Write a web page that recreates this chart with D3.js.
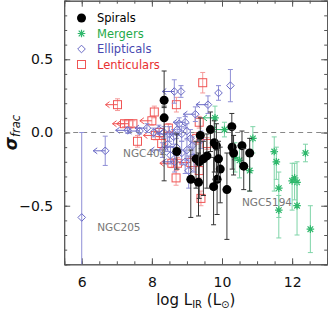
<!DOCTYPE html>
<html><head><meta charset="utf-8">
<script src="https://cdn.jsdelivr.net/npm/d3@7"></script>
<style>body{margin:0;background:#fff}svg{display:block}</style>
</head><body><svg id="c" width="328" height="311"></svg>
<script>
const xDomain = [5.5, 13];
const yDomain = [-0.9, 0.9];
const xTickLabels = [6, 8, 10, 12];
const yTickLabels = [-0.5, 0, 0.5];
// rows: [log L_IR, sigma_frac, errLow, errHigh, upperLimit (1 = left arrow)]
const spirals = [
  [8.35,0.22,0.05,0.20,0],[8.35,0.10,0.43,0.08,0],[10.28,0.04,0.12,0.09,0],[9.67,0.02,0.15,0.12,0],
  [9.78,-0.07,0.2,0.15,0],[9.84,-0.09,0.22,0.15,0],[9.38,-0.02,0.2,0.12,0],[9.57,-0.16,0.22,0.15,0],
  [9.47,-0.18,0.25,0.12,0],[9.26,-0.18,0.2,0.12,0],[9.35,-0.20,0.25,0.15,0],[8.71,-0.13,0.12,0.12,0],
  [9.95,-0.25,0.23,0.15,0],[9.86,-0.32,0.24,0.2,0],[9.76,-0.37,0.26,0.2,0],[10.14,-0.39,0.34,0.25,0],
  [10.29,-0.10,0.15,0.12,0],[10.33,-0.14,0.15,0.12,0],[10.57,-0.09,0.12,0.1,0],[10.62,-0.23,0.16,0.12,0],
  [10.79,-0.14,0.26,0.1,0],[9.11,-0.32,0.26,0.2,0],[9.33,-0.34,0.23,0.2,0],[9.9,-0.18,0.15,0.12,0]
];
const mergers = [
  [9.8,0.10,0.08,0.08,1],[10.07,0.02,0.05,0.05,1],[10.88,-0.04,0.1,0.08,0],[10.79,-0.26,0.14,0.12,0],
  [10.50,-0.19,0.12,0.1,0],[10.37,-0.17,0.1,0.1,0],[11.49,-0.13,0.27,0.1,0],[11.55,-0.20,0.12,0.1,0],
  [11.62,-0.38,0.2,0.11,0],[11.62,-0.53,0.19,0.1,0],[12.0,-0.33,0.2,0.12,0],[12.07,-0.31,0.15,0.1,0],
  [12.14,-0.34,0.16,0.14,0],[12.14,-0.50,0.2,0.15,0],[12.38,-0.14,0.06,0.06,0],[12.52,-0.66,0.16,0.16,0]
];
const ellipticals = [
  [6.0,-0.58,0.6,0.58,0],[6.67,-0.125,0.1,0.1,1],[7.31,0.015,0.02,0.02,1],[7.65,0.01,0.02,0.02,1],
  [7.86,0.03,0.03,0.03,1],[8.05,0.0,0.03,0.03,0],[8.2,0.02,0.03,0.03,0],[8.64,0.28,0.08,0.08,1],
  [8.83,0.28,0.04,0.04,0],[10.24,0.32,0.11,0.11,0],[9.9,0.27,0.05,0.05,0],[9.6,0.19,0.06,0.06,1],
  [9.24,0.125,0.05,0.05,1],[8.95,0.07,0.04,0.04,1],[8.78,0.06,0.04,0.04,0],[8.35,0.0,0.04,0.04,0],
  [8.5,-0.01,0.05,0.05,1],[8.62,-0.03,0.05,0.05,0],[8.72,0.02,0.04,0.04,0],[8.85,-0.01,0.05,0.05,1],
  [9.0,0.01,0.05,0.05,0],[9.1,-0.04,0.06,0.06,0],[8.45,-0.08,0.05,0.05,0],[8.53,-0.155,0.06,0.06,0],
  [8.7,-0.1,0.06,0.06,1],[8.85,-0.14,0.08,0.08,0],[9.0,-0.12,0.07,0.07,0],[9.15,-0.09,0.06,0.06,0],
  [8.95,-0.2,0.08,0.08,0],[9.2,-0.17,0.1,0.1,0],[8.65,-0.2,0.07,0.07,1],[9.05,-0.26,0.12,0.1,0],
  [8.3,-0.12,0.05,0.05,1],[9.4,-0.05,0.06,0.06,0]
];
const lenticulars = [
  [7.02,0.19,0.04,0.04,1],[8.07,0.14,0.04,0.04,0],[8.0,0.08,0.03,0.03,1],[7.22,0.06,0.02,0.02,1],
  [7.34,0.06,0.02,0.02,1],[7.46,0.06,0.02,0.02,0],[7.59,-0.06,0.04,0.04,0],[9.45,0.34,0.07,0.07,0],
  [8.70,0.19,0.05,0.05,0],[9.35,0.07,0.04,0.04,0],[8.47,0.03,0.03,0.03,0],[9.57,-0.075,0.04,0.04,0],
  [8.73,-0.21,0.04,0.04,0],[8.69,-0.31,0.05,0.05,0],[9.11,-0.205,0.04,0.04,1],[9.35,-0.26,0.05,0.05,0],
  [9.40,-0.45,0.05,0.05,0],[8.28,-0.075,0.04,0.04,0],[8.57,-0.21,0.03,0.03,1],[8.22,0.0,0.03,0.03,0],
  [9.28,-0.04,0.04,0.04,0],[8.1,-0.02,0.03,0.03,1]
];
const legendLabels = ["Spirals","Mergers","Ellipticals","Lenticulars"];
const annotations = [["NGC404",7.18,-0.17],["NGC205",6.44,-0.67],["NGC5194",10.57,-0.505]];

const svg = d3.select("#c");
const L = 64.2, R = 327.2, T = 0.7, B = 264.3;
const x = d3.scaleLinear().domain(xDomain).range([L, R]);
const y = d3.scaleLinear().domain(yDomain).range([B, T]);
const font = "DejaVu Sans, sans-serif";

svg.append("defs").append("clipPath").attr("id","clip")
  .append("rect").attr("x",L).attr("y",T).attr("width",R-L).attr("height",B-T);

const axCol = "#555";
function styleAxis(g){ g.select(".domain").attr("stroke",axCol); g.selectAll("line").attr("stroke",axCol); }
const xMinor = d3.range(5.5, 13.01, 0.5);
const yMinor = d3.range(-0.9, 0.901, 0.1).map(v=>+v.toFixed(2));
svg.append("g").attr("transform",`translate(0,${B})`).call(d3.axisBottom(x).tickValues(xMinor).tickSize(-3).tickFormat("")).call(styleAxis);
svg.append("g").attr("transform",`translate(0,${B})`).call(d3.axisBottom(x).tickValues(xTickLabels).tickSize(-6).tickPadding(13).tickFormat(d3.format("d")))
  .call(styleAxis).call(g=>g.selectAll("text").attr("font-family",font).attr("font-size",14).attr("fill","#111"));
svg.append("g").attr("transform",`translate(0,${T})`).call(d3.axisTop(x).tickValues(xMinor).tickSize(-3).tickFormat("")).call(styleAxis);
svg.append("g").attr("transform",`translate(0,${T})`).call(d3.axisTop(x).tickValues(xTickLabels).tickSize(-6).tickFormat("")).call(styleAxis);
svg.append("g").attr("transform",`translate(${L},0)`).call(d3.axisLeft(y).tickValues(yMinor).tickSize(-3).tickFormat("")).call(styleAxis);
svg.append("g").attr("transform",`translate(${L},0)`).call(d3.axisLeft(y).tickValues(yTickLabels).tickSize(-6).tickPadding(11).tickFormat(d=>d3.format(".1f")(d).replace("-","\u2212")))
  .call(styleAxis).call(g=>g.selectAll("text").attr("font-family",font).attr("font-size",14).attr("fill","#111"));
svg.append("g").attr("transform",`translate(${R},0)`).call(d3.axisRight(y).tickValues(yMinor).tickSize(-3).tickFormat("")).call(styleAxis);
svg.append("g").attr("transform",`translate(${R},0)`).call(d3.axisRight(y).tickValues(yTickLabels).tickSize(-6).tickFormat("")).call(styleAxis);

svg.append("line").attr("x1",L).attr("x2",R).attr("y1",y(0)).attr("y2",y(0))
  .attr("stroke","#888").attr("stroke-dasharray","5,4");

const plot = svg.append("g").attr("clip-path","url(#clip)");

function drawSeries(data, barCol, markCol, shape){
  const g = plot.append("g");
  data.forEach(d=>{
    const px = x(d[0]), py = y(d[1]), y1 = y(d[1]-d[2]), y2 = y(d[1]+d[3]);
    g.append("line").attr("x1",px).attr("x2",px).attr("y1",y1).attr("y2",y2).attr("stroke",barCol).attr("stroke-width",1);
    [y1,y2].forEach(yy=>g.append("line").attr("x1",px-2.5).attr("x2",px+2.5).attr("y1",yy).attr("y2",yy).attr("stroke",barCol));
    if(d[4]){
      const tip = px - 12;
      g.append("path").attr("d",`M${px},${py}H${tip}M${tip+4},${py-3}L${tip},${py}L${tip+4},${py+3}`)
        .attr("fill","none").attr("stroke",markCol).attr("stroke-width",1);
    }
    drawMarker(g, shape, px, py, markCol);
  });
}
function drawMarker(g, shape, px, py, col){
  if(shape==="circle"){
    g.append("circle").attr("cx",px).attr("cy",py).attr("r",4.5).attr("fill","#000");
  } else if(shape==="diamond"){
    g.append("path").attr("d",`M${px},${py-3.8}L${px+3.8},${py}L${px},${py+3.8}L${px-3.8},${py}Z`)
      .attr("fill","none").attr("stroke",col).attr("stroke-width",1);
  } else if(shape==="square"){
    g.append("rect").attr("x",px-4).attr("y",py-4).attr("width",8).attr("height",8)
      .attr("fill","none").attr("stroke",col).attr("stroke-width",1);
  } else if(shape==="star"){
    const r=3.8, r2=2.8;
    g.append("path").attr("d",`M${px-r},${py}H${px+r}M${px},${py-r}V${py+r}M${px-r2},${py-r2}L${px+r2},${py+r2}M${px-r2},${py+r2}L${px+r2},${py-r2}`)
      .attr("stroke",col).attr("stroke-width",1.2);
  }
}

drawSeries(lenticulars, "#f59a9a", "#f05555", "square");
drawSeries(ellipticals, "#8f8fd6", "#6a6ac6", "diamond");
drawSeries(mergers, "#7fd4a8", "#2fb86c", "star");
drawSeries(spirals, "#333", "#000", "circle");

annotations.forEach(a=>{
  svg.append("text").attr("x",x(a[1])).attr("y",y(a[2])).text(a[0])
    .attr("font-family",font).attr("font-size",10.5).attr("fill","#777");
});

const legCols = ["#000","#1faa4a","#4848b0","#e83030"];
const legMark = ["#000","#2fb86c","#6a6ac6","#f05555"];
const legShapes = ["circle","star","diamond","square"];
const lg = svg.append("g");
legendLabels.forEach((t,i)=>{
  const cy = 18 + i*15.5;
  drawMarker(lg, legShapes[i], 81.5, cy, legMark[i]);
  lg.append("text").attr("x",97).attr("y",cy+4).text(t)
    .attr("font-family",font).attr("font-size",11.5).attr("fill",legCols[i]);
});

const xt = svg.append("text").attr("x",(L+R)/2).attr("y",305).attr("text-anchor","middle")
  .attr("font-family",font).attr("font-size",15).attr("fill","#111");
xt.append("tspan").text("log L");
xt.append("tspan").attr("font-size",10).attr("dy",3).text("IR");
xt.append("tspan").attr("dy",-3).text(" (L");
xt.append("tspan").attr("font-size",10).attr("dy",3).text("\u2299");
xt.append("tspan").attr("dy",-3).text(")");

const yt = svg.append("text").attr("transform",`translate(17,${(T+B)/2}) rotate(-90)`).attr("text-anchor","middle")
  .attr("font-family",font).attr("fill","#111");
yt.append("tspan").attr("font-size",17).attr("font-style","italic").attr("font-weight","bold").text("\u03c3");
yt.append("tspan").attr("font-size",11.5).attr("dy",3).attr("font-style","italic").text("frac");
</script></body></html>
